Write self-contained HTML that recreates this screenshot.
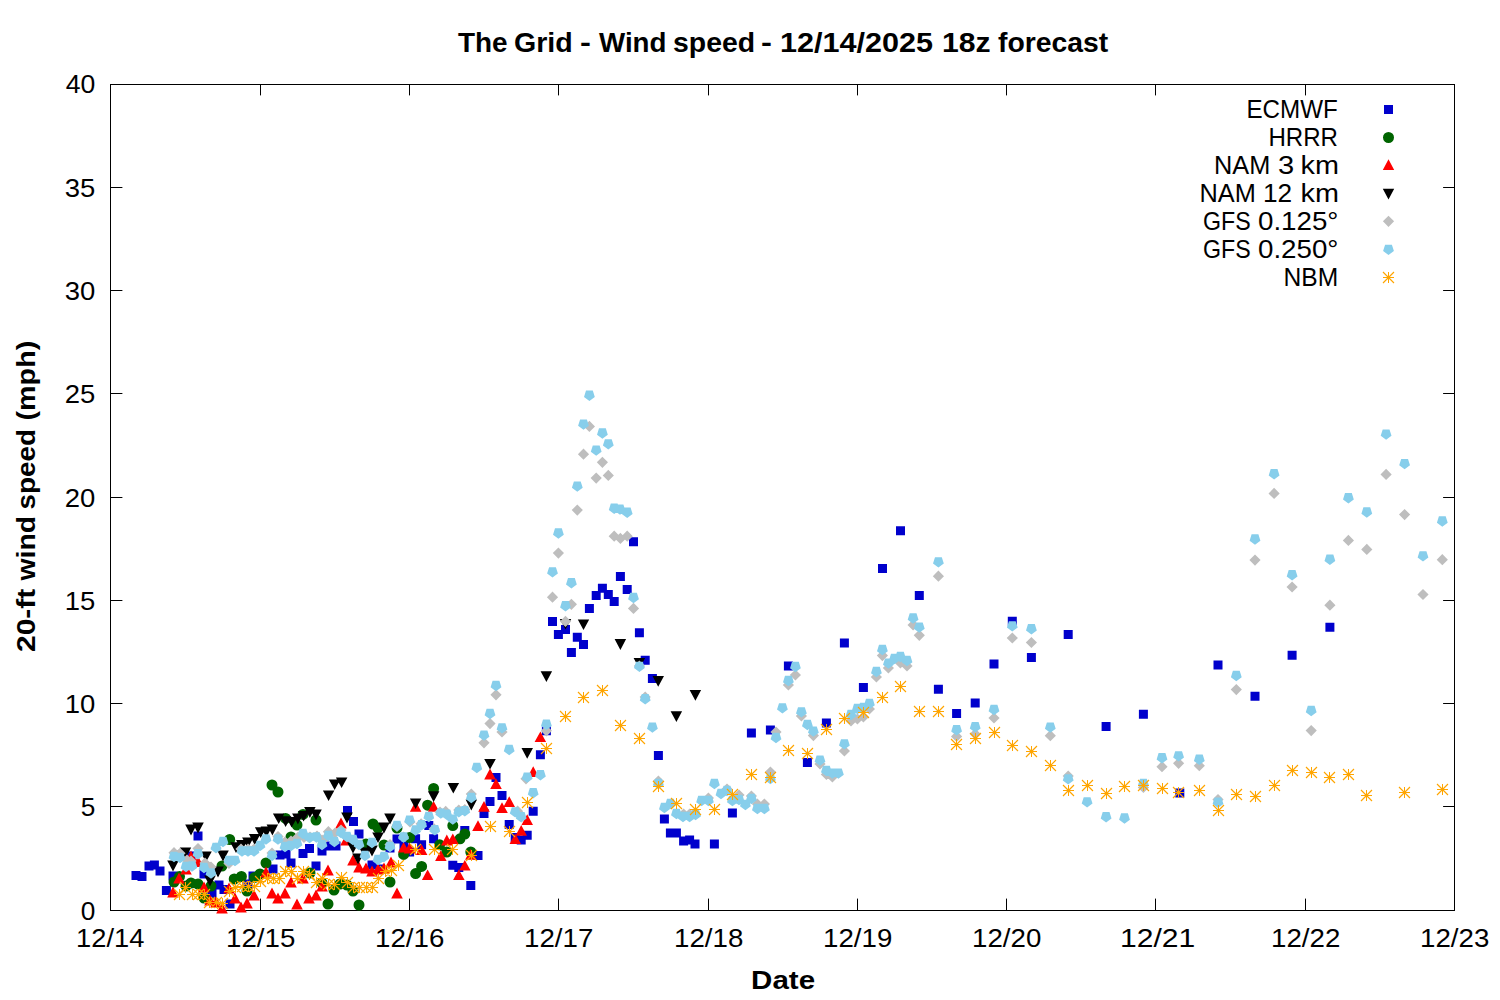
<!DOCTYPE html><html><head><meta charset="utf-8"><style>html,body{margin:0;padding:0;background:#fff;}svg{display:block;}</style></head><body><svg width="1500" height="1000" viewBox="0 0 1500 1000"><rect width="1500" height="1000" fill="#fff"/><path d="M260.5 84.5V95M260.5 910.5V899M409.5 84.5V95M409.5 910.5V899M558.5 84.5V95M558.5 910.5V899M708.5 84.5V95M708.5 910.5V899M857.5 84.5V95M857.5 910.5V899M1006.5 84.5V95M1006.5 910.5V899M1155.5 84.5V95M1155.5 910.5V899M1305.5 84.5V95M1305.5 910.5V899M110.5 806.5H122M1454.5 806.5H1443.5M110.5 703.5H122M1454.5 703.5H1443.5M110.5 600.5H122M1454.5 600.5H1443.5M110.5 497.5H122M1454.5 497.5H1443.5M110.5 393.5H122M1454.5 393.5H1443.5M110.5 290.5H122M1454.5 290.5H1443.5M110.5 187.5H122M1454.5 187.5H1443.5" stroke="#000" stroke-width="1" fill="none" stroke-linecap="round"/><rect x="110.5" y="84.5" width="1344" height="826" fill="none" stroke="#000" stroke-width="1"/><g font-family='"Liberation Sans", sans-serif' fill="#000"><text id="t_y0" x="95.3" y="919.5" text-anchor="end" font-size="25.5" textLength="14.59" lengthAdjust="spacingAndGlyphs">0</text><text id="t_y5" x="95.3" y="816.2" text-anchor="end" font-size="25.5" textLength="14.59" lengthAdjust="spacingAndGlyphs">5</text><text id="t_y10" x="95.3" y="713.0" text-anchor="end" font-size="25.5" textLength="30.57" lengthAdjust="spacingAndGlyphs">10</text><text id="t_y15" x="95.3" y="609.8" text-anchor="end" font-size="25.5" textLength="30.57" lengthAdjust="spacingAndGlyphs">15</text><text id="t_y20" x="95.3" y="506.5" text-anchor="end" font-size="25.5" textLength="30.57" lengthAdjust="spacingAndGlyphs">20</text><text id="t_y25" x="95.3" y="403.2" text-anchor="end" font-size="25.5" textLength="30.57" lengthAdjust="spacingAndGlyphs">25</text><text id="t_y30" x="95.3" y="300.0" text-anchor="end" font-size="25.5" textLength="30.57" lengthAdjust="spacingAndGlyphs">30</text><text id="t_y35" x="95.3" y="196.8" text-anchor="end" font-size="25.5" textLength="30.57" lengthAdjust="spacingAndGlyphs">35</text><text id="t_y40" x="95.3" y="92.5" text-anchor="end" font-size="25.5" textLength="29.57" lengthAdjust="spacingAndGlyphs">40</text><text id="t_x12_14" x="110.2" y="947" text-anchor="middle" font-size="25.5" textLength="68.21" lengthAdjust="spacingAndGlyphs">12/14</text><text id="t_x12_15" x="260.7" y="947" text-anchor="middle" font-size="25.5" textLength="69.21" lengthAdjust="spacingAndGlyphs">12/15</text><text id="t_x12_16" x="409.7" y="947" text-anchor="middle" font-size="25.5" textLength="69.21" lengthAdjust="spacingAndGlyphs">12/16</text><text id="t_x12_17" x="558.7" y="947" text-anchor="middle" font-size="25.5" textLength="69.21" lengthAdjust="spacingAndGlyphs">12/17</text><text id="t_x12_18" x="708.7" y="947" text-anchor="middle" font-size="25.5" textLength="69.21" lengthAdjust="spacingAndGlyphs">12/18</text><text id="t_x12_19" x="857.7" y="947" text-anchor="middle" font-size="25.5" textLength="69.21" lengthAdjust="spacingAndGlyphs">12/19</text><text id="t_x12_20" x="1006.7" y="947" text-anchor="middle" font-size="25.5" textLength="69.21" lengthAdjust="spacingAndGlyphs">12/20</text><text id="t_x12_21" x="1157.7" y="947" text-anchor="middle" font-size="25.5" textLength="75.21" lengthAdjust="spacingAndGlyphs">12/21</text><text id="t_x12_22" x="1305.7" y="947" text-anchor="middle" font-size="25.5" textLength="69.21" lengthAdjust="spacingAndGlyphs">12/22</text><text id="t_x12_23" x="1454.7" y="947" text-anchor="middle" font-size="25.5" textLength="69.21" lengthAdjust="spacingAndGlyphs">12/23</text><text id="t_date" x="783.1" y="989" text-anchor="middle" font-size="26" font-weight="bold" textLength="63.96" lengthAdjust="spacingAndGlyphs">Date</text><text id="t_tw0" x="458.00" y="51.7" font-size="26.8" font-weight="bold" textLength="49.64" lengthAdjust="spacingAndGlyphs">The</text><text id="t_tw1" x="514.00" y="51.7" font-size="26.8" font-weight="bold" textLength="58.69" lengthAdjust="spacingAndGlyphs">Grid</text><text id="t_tw2" x="580.00" y="51.7" font-size="26.8" font-weight="bold" textLength="10.94" lengthAdjust="spacingAndGlyphs">-</text><text id="t_tw3" x="599.00" y="51.7" font-size="26.8" font-weight="bold" textLength="67.45" lengthAdjust="spacingAndGlyphs">Wind</text><text id="t_tw4" x="673.00" y="51.7" font-size="26.8" font-weight="bold" textLength="82.05" lengthAdjust="spacingAndGlyphs">speed</text><text id="t_tw5" x="761.00" y="51.7" font-size="26.8" font-weight="bold" textLength="10.94" lengthAdjust="spacingAndGlyphs">-</text><text id="t_tw6" x="780.00" y="51.7" font-size="26.8" font-weight="bold" textLength="153.12" lengthAdjust="spacingAndGlyphs">12/14/2025</text><text id="t_tw7" x="942.00" y="51.7" font-size="26.8" font-weight="bold" textLength="48.62" lengthAdjust="spacingAndGlyphs">18z</text><text id="t_tw8" x="998.00" y="51.7" font-size="26.8" font-weight="bold" textLength="110.27" lengthAdjust="spacingAndGlyphs">forecast</text><text id="t_yw0" transform="rotate(-90)" x="-420.50" y="35.2" font-size="26" font-weight="bold" textLength="79.80" lengthAdjust="spacingAndGlyphs">(mph)</text><text id="t_yw1" transform="rotate(-90)" x="-509.50" y="35.2" font-size="26" font-weight="bold" textLength="80.56" lengthAdjust="spacingAndGlyphs">speed</text><text id="t_yw2" transform="rotate(-90)" x="-580.50" y="35.2" font-size="26" font-weight="bold" textLength="64.62" lengthAdjust="spacingAndGlyphs">wind</text><text id="t_yw3" transform="rotate(-90)" x="-652.00" y="35.2" font-size="26" font-weight="bold" textLength="63.31" lengthAdjust="spacingAndGlyphs">20-ft</text><text id="t_lw0_0" x="1246.50" y="118.4" font-size="25.5" textLength="91.31" lengthAdjust="spacingAndGlyphs">ECMWF</text><text id="t_lw1_0" x="1268.50" y="146.4" font-size="25.5" textLength="69.47" lengthAdjust="spacingAndGlyphs">HRRR</text><text id="t_lw2_0" x="1214.00" y="174.4" font-size="25.5" textLength="56.27" lengthAdjust="spacingAndGlyphs">NAM</text><text id="t_lw2_1" x="1278.00" y="174.4" font-size="25.5" textLength="16.19" lengthAdjust="spacingAndGlyphs">3</text><text id="t_lw2_2" x="1300.50" y="174.4" font-size="25.5" textLength="38.40" lengthAdjust="spacingAndGlyphs">km</text><text id="t_lw3_0" x="1199.50" y="202.4" font-size="25.5" textLength="56.27" lengthAdjust="spacingAndGlyphs">NAM</text><text id="t_lw3_1" x="1263.00" y="202.4" font-size="25.5" textLength="29.18" lengthAdjust="spacingAndGlyphs">12</text><text id="t_lw3_2" x="1300.50" y="202.4" font-size="25.5" textLength="38.40" lengthAdjust="spacingAndGlyphs">km</text><text id="t_lw4_0" x="1203.00" y="230.4" font-size="25.5" textLength="47.62" lengthAdjust="spacingAndGlyphs">GFS</text><text id="t_lw4_1" x="1258.00" y="230.4" font-size="25.5" textLength="80.42" lengthAdjust="spacingAndGlyphs">0.125°</text><text id="t_lw5_0" x="1203.00" y="258.4" font-size="25.5" textLength="47.62" lengthAdjust="spacingAndGlyphs">GFS</text><text id="t_lw5_1" x="1258.00" y="258.4" font-size="25.5" textLength="80.42" lengthAdjust="spacingAndGlyphs">0.250°</text><text id="t_lw6_0" x="1283.50" y="286.4" font-size="25.5" textLength="54.67" lengthAdjust="spacingAndGlyphs">NBM</text></g><path d="M131.5 871.1h9v9h-9zM137.5 871.9h9v9h-9zM144.5 861.5h9v9h-9zM149.9 860.5h9v9h-9zM155.5 866.5h9v9h-9zM161.9 885.9h9v9h-9zM168.5 871.5h9v9h-9zM186.5 851.5h9v9h-9zM193.5 831.5h9v9h-9zM199.5 869.5h9v9h-9zM207.5 889.5h9v9h-9zM214.5 880.5h9v9h-9zM219.5 885.0h9v9h-9zM225.5 899.5h9v9h-9zM243.5 879.5h9v9h-9zM248.5 871.5h9v9h-9zM268.5 864.5h9v9h-9zM275.5 850.5h9v9h-9zM281.5 849.5h9v9h-9zM286.5 858.5h9v9h-9zM298.5 849.1h9v9h-9zM305.0 843.9h9v9h-9zM311.5 861.5h9v9h-9zM317.5 846.5h9v9h-9zM324.5 841.5h9v9h-9zM331.5 841.5h9v9h-9zM343.0 806.0h9v9h-9zM349.0 817.1h9v9h-9zM354.5 829.5h9v9h-9zM367.5 860.5h9v9h-9zM375.5 864.5h9v9h-9zM385.5 843.5h9v9h-9zM392.5 834.5h9v9h-9zM399.5 841.5h9v9h-9zM405.1 847.5h9v9h-9zM411.1 834.3h9v9h-9zM417.1 840.3h9v9h-9zM424.3 821.1h9v9h-9zM429.1 834.3h9v9h-9zM448.3 860.7h9v9h-9zM454.3 863.1h9v9h-9zM460.3 825.9h9v9h-9zM466.3 881.1h9v9h-9zM473.5 851.1h9v9h-9zM479.5 809.1h9v9h-9zM485.5 797.1h9v9h-9zM491.5 773.1h9v9h-9zM497.5 791.1h9v9h-9zM504.7 819.9h9v9h-9zM510.7 833.1h9v9h-9zM516.7 835.5h9v9h-9zM522.7 830.7h9v9h-9zM528.7 806.7h9v9h-9zM535.9 750.3h9v9h-9zM541.9 726.3h9v9h-9zM548.0 616.9h9v9h-9zM553.9 630.0h9v9h-9zM561.0 625.0h9v9h-9zM566.9 648.0h9v9h-9zM572.8 632.7h9v9h-9zM579.0 639.9h9v9h-9zM584.9 603.9h9v9h-9zM591.7 590.9h9v9h-9zM597.9 583.7h9v9h-9zM603.8 589.9h9v9h-9zM609.7 597.1h9v9h-9zM615.9 571.9h9v9h-9zM622.7 585.0h9v9h-9zM629.0 537.3h9v9h-9zM634.9 628.2h9v9h-9zM640.7 655.7h9v9h-9zM647.9 674.1h9v9h-9zM653.9 750.9h9v9h-9zM659.9 814.5h9v9h-9zM665.9 828.5h9v9h-9zM671.9 828.5h9v9h-9zM679.1 836.5h9v9h-9zM685.1 835.5h9v9h-9zM690.5 839.5h9v9h-9zM709.9 839.5h9v9h-9zM727.9 808.5h9v9h-9zM746.9 728.5h9v9h-9zM765.9 725.5h9v9h-9zM783.9 661.5h9v9h-9zM802.9 757.9h9v9h-9zM821.9 718.5h9v9h-9zM839.9 638.5h9v9h-9zM858.9 683.0h9v9h-9zM878.0 564.1h9v9h-9zM896.0 526.2h9v9h-9zM914.8 591.0h9v9h-9zM933.9 684.8h9v9h-9zM952.1 708.9h9v9h-9zM970.7 698.6h9v9h-9zM989.5 659.5h9v9h-9zM1007.8 616.7h9v9h-9zM1026.9 653.0h9v9h-9zM1063.7 630.0h9v9h-9zM1101.6 722.0h9v9h-9zM1138.9 709.8h9v9h-9zM1175.3 788.5h9v9h-9zM1213.5 660.5h9v9h-9zM1250.5 691.7h9v9h-9zM1287.6 650.8h9v9h-9zM1325.4 622.8h9v9h-9zM1384.0 104.9h9v9h-9z" fill="#0000cc"/><path d="M168.5 882.0a5.5 5.5 0 1 0 11 0a5.5 5.5 0 1 0 -11 0zM174.0 876.6a5.5 5.5 0 1 0 11 0a5.5 5.5 0 1 0 -11 0zM180.5 886.0a5.5 5.5 0 1 0 11 0a5.5 5.5 0 1 0 -11 0zM185.5 883.0a5.5 5.5 0 1 0 11 0a5.5 5.5 0 1 0 -11 0zM192.5 884.0a5.5 5.5 0 1 0 11 0a5.5 5.5 0 1 0 -11 0zM198.5 898.0a5.5 5.5 0 1 0 11 0a5.5 5.5 0 1 0 -11 0zM205.5 886.0a5.5 5.5 0 1 0 11 0a5.5 5.5 0 1 0 -11 0zM216.5 866.0a5.5 5.5 0 1 0 11 0a5.5 5.5 0 1 0 -11 0zM224.2 839.5a5.5 5.5 0 1 0 11 0a5.5 5.5 0 1 0 -11 0zM228.7 879.0a5.5 5.5 0 1 0 11 0a5.5 5.5 0 1 0 -11 0zM235.9 876.5a5.5 5.5 0 1 0 11 0a5.5 5.5 0 1 0 -11 0zM241.5 891.0a5.5 5.5 0 1 0 11 0a5.5 5.5 0 1 0 -11 0zM249.1 877.4a5.5 5.5 0 1 0 11 0a5.5 5.5 0 1 0 -11 0zM254.5 874.0a5.5 5.5 0 1 0 11 0a5.5 5.5 0 1 0 -11 0zM260.5 863.0a5.5 5.5 0 1 0 11 0a5.5 5.5 0 1 0 -11 0zM266.5 785.0a5.5 5.5 0 1 0 11 0a5.5 5.5 0 1 0 -11 0zM272.5 792.0a5.5 5.5 0 1 0 11 0a5.5 5.5 0 1 0 -11 0zM280.1 818.4a5.5 5.5 0 1 0 11 0a5.5 5.5 0 1 0 -11 0zM285.5 837.0a5.5 5.5 0 1 0 11 0a5.5 5.5 0 1 0 -11 0zM291.5 825.0a5.5 5.5 0 1 0 11 0a5.5 5.5 0 1 0 -11 0zM297.5 814.4a5.5 5.5 0 1 0 11 0a5.5 5.5 0 1 0 -11 0zM304.5 873.0a5.5 5.5 0 1 0 11 0a5.5 5.5 0 1 0 -11 0zM310.5 820.0a5.5 5.5 0 1 0 11 0a5.5 5.5 0 1 0 -11 0zM316.5 883.0a5.5 5.5 0 1 0 11 0a5.5 5.5 0 1 0 -11 0zM322.5 904.0a5.5 5.5 0 1 0 11 0a5.5 5.5 0 1 0 -11 0zM328.5 890.0a5.5 5.5 0 1 0 11 0a5.5 5.5 0 1 0 -11 0zM334.5 884.0a5.5 5.5 0 1 0 11 0a5.5 5.5 0 1 0 -11 0zM341.5 885.0a5.5 5.5 0 1 0 11 0a5.5 5.5 0 1 0 -11 0zM347.5 891.0a5.5 5.5 0 1 0 11 0a5.5 5.5 0 1 0 -11 0zM353.5 905.0a5.5 5.5 0 1 0 11 0a5.5 5.5 0 1 0 -11 0zM360.5 844.0a5.5 5.5 0 1 0 11 0a5.5 5.5 0 1 0 -11 0zM367.5 824.0a5.5 5.5 0 1 0 11 0a5.5 5.5 0 1 0 -11 0zM372.5 828.0a5.5 5.5 0 1 0 11 0a5.5 5.5 0 1 0 -11 0zM378.5 845.0a5.5 5.5 0 1 0 11 0a5.5 5.5 0 1 0 -11 0zM384.5 882.0a5.5 5.5 0 1 0 11 0a5.5 5.5 0 1 0 -11 0zM391.5 828.0a5.5 5.5 0 1 0 11 0a5.5 5.5 0 1 0 -11 0zM398.1 854.4a5.5 5.5 0 1 0 11 0a5.5 5.5 0 1 0 -11 0zM404.1 837.6a5.5 5.5 0 1 0 11 0a5.5 5.5 0 1 0 -11 0zM410.1 873.6a5.5 5.5 0 1 0 11 0a5.5 5.5 0 1 0 -11 0zM416.1 866.4a5.5 5.5 0 1 0 11 0a5.5 5.5 0 1 0 -11 0zM422.1 805.2a5.5 5.5 0 1 0 11 0a5.5 5.5 0 1 0 -11 0zM428.1 788.4a5.5 5.5 0 1 0 11 0a5.5 5.5 0 1 0 -11 0zM434.1 844.8a5.5 5.5 0 1 0 11 0a5.5 5.5 0 1 0 -11 0zM441.3 852.0a5.5 5.5 0 1 0 11 0a5.5 5.5 0 1 0 -11 0zM447.3 825.6a5.5 5.5 0 1 0 11 0a5.5 5.5 0 1 0 -11 0zM454.5 838.8a5.5 5.5 0 1 0 11 0a5.5 5.5 0 1 0 -11 0zM459.3 834.0a5.5 5.5 0 1 0 11 0a5.5 5.5 0 1 0 -11 0zM465.3 852.0a5.5 5.5 0 1 0 11 0a5.5 5.5 0 1 0 -11 0zM1383.0 137.5a5.5 5.5 0 1 0 11 0a5.5 5.5 0 1 0 -11 0z" fill="#006400"/><path d="M173.0 886.6L178.8 897.4H167.2zM179.0 872.6L184.8 883.4H173.2zM186.0 863.9L191.8 874.6H180.2zM191.0 850.6L196.8 861.4H185.2zM198.0 856.1L203.8 866.9H192.2zM204.0 881.6L209.8 892.4H198.2zM210.0 894.6L215.8 905.4H204.2zM216.0 896.6L221.8 907.4H210.2zM222.0 902.6L227.8 913.4H216.2zM229.0 882.6L234.8 893.4H223.2zM235.0 892.6L240.8 903.4H229.2zM241.0 901.6L246.8 912.4H235.2zM247.0 897.6L252.8 908.4H241.2zM254.0 889.6L259.8 900.4H248.2zM266.0 866.6L271.8 877.4H260.2zM272.0 887.6L277.8 898.4H266.2zM278.0 892.6L283.8 903.4H272.2zM285.0 887.6L290.8 898.4H279.2zM291.0 876.6L296.8 887.4H285.2zM297.0 898.6L302.8 909.4H291.2zM303.0 872.6L308.8 883.4H297.2zM309.0 892.6L314.8 903.4H303.2zM316.0 889.6L321.8 900.4H310.2zM322.0 880.6L327.8 891.4H316.2zM328.0 864.6L333.8 875.4H322.2zM341.0 817.6L346.8 828.4H335.2zM346.0 834.6L351.8 845.4H340.2zM353.0 854.6L358.8 865.4H347.2zM359.0 861.6L364.8 872.4H353.2zM366.0 862.6L371.8 873.4H360.2zM372.0 865.6L377.8 876.4H366.2zM378.0 863.6L383.8 874.4H372.2zM384.0 862.6L389.8 873.4H378.2zM391.0 856.6L396.8 867.4H385.2zM397.0 887.6L402.8 898.4H391.2zM403.6 841.9L409.4 852.6H397.9zM409.6 842.6L415.4 853.4H403.9zM415.6 801.0L421.4 811.8H409.9zM421.6 844.2L427.4 855.0H415.9zM427.6 869.4L433.4 880.1H421.9zM433.6 801.0L439.4 811.8H427.9zM440.8 850.2L446.6 861.0H435.1zM446.8 834.6L452.6 845.4H441.1zM452.8 833.4L458.6 844.1H447.1zM458.8 869.4L464.6 880.1H453.1zM464.8 859.9L470.6 870.6H459.1zM470.8 849.0L476.6 859.8H465.1zM478.0 820.2L483.8 831.0H472.2zM484.0 801.0L489.8 811.8H478.2zM490.0 768.6L495.8 779.4H484.2zM496.0 778.2L501.8 789.0H490.2zM502.0 802.2L507.8 813.0H496.2zM509.2 796.2L515.0 807.0H503.4zM515.2 833.4L521.0 844.1H509.5zM521.2 825.0L527.0 835.8H515.5zM527.2 814.2L533.0 825.0H521.5zM533.2 766.2L539.0 777.0H527.5zM540.4 731.4L546.1 742.1H534.6zM1388.5 159.3L1394.2 170.0H1382.8z" fill="#ff0000"/><path d="M173.0 871.4L178.8 860.6H167.2zM185.5 858.4L191.2 847.6H179.8zM191.0 835.4L196.8 824.6H185.2zM198.0 833.4L203.8 822.6H192.2zM206.0 862.1L211.8 851.4H200.2zM210.0 886.4L215.8 875.6H204.2zM218.0 877.4L223.8 866.6H212.2zM223.0 861.4L228.8 850.6H217.2zM236.0 853.0L241.8 842.2H230.2zM241.8 850.9L247.6 840.1H236.1zM247.8 848.2L253.6 837.5H242.1zM254.7 844.9L260.4 834.1H248.9zM260.7 838.0L266.4 827.2H254.9zM266.4 837.4L272.1 826.6H260.6zM272.4 835.4L278.1 824.6H266.6zM278.7 824.1L284.4 813.4H272.9zM285.6 827.0L291.4 816.2H279.9zM291.6 827.6L297.4 816.9H285.9zM297.9 824.4L303.6 813.6H292.1zM303.6 821.6L309.4 810.9H297.9zM309.9 817.9L315.6 807.1H304.1zM316.0 820.4L321.8 809.6H310.2zM328.6 801.1L334.4 790.4H322.9zM334.6 790.1L340.4 779.4H328.9zM341.6 788.1L347.4 777.4H335.9zM347.0 823.4L352.8 812.6H341.2zM353.0 853.4L358.8 842.6H347.2zM358.0 864.4L363.8 853.6H352.2zM365.0 858.4L370.8 847.6H359.2zM372.0 856.4L377.8 845.6H366.2zM378.0 843.1L383.8 832.4H372.2zM384.0 833.4L389.8 822.6H378.2zM390.0 824.4L395.8 813.6H384.2zM415.6 809.1L421.4 798.4H409.9zM433.6 802.0L439.4 791.2H427.9zM453.3 793.6L459.1 782.9H447.6zM471.3 810.4L477.1 799.6H465.6zM490.0 769.6L495.8 758.9H484.2zM527.2 758.8L533.0 748.0H521.5zM546.4 682.0L552.1 671.2H540.6zM565.5 629.6L571.2 618.9H559.8zM583.5 630.1L589.2 619.4H577.8zM620.4 649.9L626.1 639.1H614.6zM639.4 668.8L645.1 658.0H633.6zM658.2 686.8L664.0 676.0H652.5zM676.4 722.0L682.1 711.2H670.6zM695.4 700.8L701.1 690.0H689.6zM1388.5 199.5L1394.2 188.8H1382.8z" fill="#000000"/><path d="M174.0 847.1L179.6 852.7L174.0 858.3L168.4 852.7zM180.0 847.7L185.6 853.3L180.0 858.9L174.4 853.3zM187.0 854.4L192.6 860.0L187.0 865.6L181.4 860.0zM191.0 855.4L196.6 861.0L191.0 866.6L185.4 861.0zM198.0 842.9L203.6 848.5L198.0 854.1L192.4 848.5zM205.0 857.4L210.6 863.0L205.0 868.6L199.4 863.0zM211.0 861.4L216.6 867.0L211.0 872.6L205.4 867.0zM216.0 842.4L221.6 848.0L216.0 853.6L210.4 848.0zM229.0 857.9L234.6 863.5L229.0 869.1L223.4 863.5zM241.0 843.4L246.6 849.0L241.0 854.6L235.4 849.0zM248.0 843.4L253.6 849.0L248.0 854.6L242.4 849.0zM254.0 843.4L259.6 849.0L254.0 854.6L248.4 849.0zM272.0 847.4L277.6 853.0L272.0 858.6L266.4 853.0zM278.0 830.9L283.6 836.5L278.0 842.1L272.4 836.5zM285.0 836.4L290.6 842.0L285.0 847.6L279.4 842.0zM291.0 835.4L296.6 841.0L291.0 846.6L285.4 841.0zM298.0 831.4L303.6 837.0L298.0 842.6L292.4 837.0zM304.0 831.9L309.6 837.5L304.0 843.1L298.4 837.5zM310.0 831.4L315.6 837.0L310.0 842.6L304.4 837.0zM317.0 830.4L322.6 836.0L317.0 841.6L311.4 836.0zM323.0 834.4L328.6 840.0L323.0 845.6L317.4 840.0zM328.4 826.1L334.0 831.7L328.4 837.3L322.8 831.7zM335.0 827.4L340.6 833.0L335.0 838.6L329.4 833.0zM341.0 824.4L346.6 830.0L341.0 835.6L335.4 830.0zM390.0 838.9L395.6 844.5L390.0 850.1L384.4 844.5zM397.0 820.9L402.6 826.5L397.0 832.1L391.4 826.5zM403.5 831.4L409.1 837.0L403.5 842.6L397.9 837.0zM410.0 816.4L415.6 822.0L410.0 827.6L404.4 822.0zM421.1 818.2L426.7 823.8L421.1 829.4L415.5 823.8zM434.1 823.3L439.7 828.9L434.1 834.5L428.5 828.9zM440.0 806.4L445.6 812.0L440.0 817.6L434.4 812.0zM445.7 805.8L451.3 811.4L445.7 817.0L440.1 811.4zM458.8 804.4L464.4 810.0L458.8 815.6L453.2 810.0zM464.8 803.9L470.4 809.5L464.8 815.1L459.2 809.5zM496.0 689.2L501.6 694.8L496.0 700.4L490.4 694.8zM490.0 718.0L495.6 723.6L490.0 729.2L484.4 723.6zM502.0 726.4L507.6 732.0L502.0 737.6L496.4 732.0zM484.0 737.2L489.6 742.8L484.0 748.4L478.4 742.8zM471.3 788.4L476.9 794.0L471.3 799.6L465.7 794.0zM526.0 773.2L531.6 778.8L526.0 784.4L520.4 778.8zM546.4 725.2L552.0 730.8L546.4 736.4L540.8 730.8zM517.6 805.6L523.2 811.2L517.6 816.8L512.0 811.2zM589.4 420.8L595.0 426.4L589.4 432.0L583.8 426.4zM583.5 448.6L589.1 454.2L583.5 459.8L577.9 454.2zM602.4 456.7L608.0 462.3L602.4 467.9L596.8 462.3zM596.2 472.5L601.8 478.1L596.2 483.7L590.6 478.1zM608.3 469.8L613.9 475.4L608.3 481.0L602.7 475.4zM577.3 504.5L582.9 510.1L577.3 515.7L571.7 510.1zM614.2 530.6L619.8 536.2L614.2 541.8L608.6 536.2zM620.4 532.8L626.0 538.4L620.4 544.0L614.8 538.4zM627.2 530.6L632.8 536.2L627.2 541.8L621.6 536.2zM558.4 547.5L564.0 553.1L558.4 558.7L552.8 553.1zM552.5 591.6L558.1 597.2L552.5 602.8L546.9 597.2zM571.4 598.7L577.0 604.3L571.4 609.9L565.8 604.3zM565.5 615.8L571.1 621.4L565.5 627.0L559.9 621.4zM633.5 602.8L639.1 608.4L633.5 614.0L627.9 608.4zM639.4 660.4L645.0 666.0L639.4 671.6L633.8 666.0zM645.2 691.4L650.8 697.0L645.2 702.6L639.6 697.0zM658.4 775.4L664.0 781.0L658.4 786.6L652.8 781.0zM683.6 808.4L689.2 814.0L683.6 819.6L678.0 814.0zM689.6 808.4L695.2 814.0L689.6 819.6L684.0 814.0zM708.4 792.4L714.0 798.0L708.4 803.6L702.8 798.0zM727.0 783.4L732.6 789.0L727.0 794.6L721.4 789.0zM739.0 789.4L744.6 795.0L739.0 800.6L733.4 795.0zM751.4 790.4L757.0 796.0L751.4 801.6L745.8 796.0zM757.4 798.4L763.0 804.0L757.4 809.6L751.8 804.0zM764.4 798.4L770.0 804.0L764.4 809.6L758.8 804.0zM770.4 766.4L776.0 772.0L770.4 777.6L764.8 772.0zM776.0 726.4L781.6 732.0L776.0 737.6L770.4 732.0zM788.4 679.4L794.0 685.0L788.4 690.6L782.8 685.0zM795.4 669.4L801.0 675.0L795.4 680.6L789.8 675.0zM801.4 710.4L807.0 716.0L801.4 721.6L795.8 716.0zM813.4 730.0L819.0 735.6L813.4 741.2L807.8 735.6zM820.0 758.4L825.6 764.0L820.0 769.6L814.4 764.0zM826.4 768.8L832.0 774.4L826.4 780.0L820.8 774.4zM832.4 771.4L838.0 777.0L832.4 782.6L826.8 777.0zM844.4 745.4L850.0 751.0L844.4 756.6L838.8 751.0zM851.0 715.4L856.6 721.0L851.0 726.6L845.4 721.0zM857.4 713.4L863.0 719.0L857.4 724.6L851.8 719.0zM863.4 711.4L869.0 717.0L863.4 722.6L857.8 717.0zM869.4 703.4L875.0 709.0L869.4 714.6L863.8 709.0zM876.4 671.4L882.0 677.0L876.4 682.6L870.8 677.0zM882.4 650.0L888.0 655.6L882.4 661.2L876.8 655.6zM888.4 662.4L894.0 668.0L888.4 673.6L882.8 668.0zM900.4 657.4L906.0 663.0L900.4 668.6L894.8 663.0zM907.0 660.4L912.6 666.0L907.0 671.6L901.4 666.0zM913.1 619.4L918.7 625.0L913.1 630.6L907.5 625.0zM919.3 629.7L924.9 635.3L919.3 640.9L913.7 635.3zM938.4 570.6L944.0 576.2L938.4 581.8L932.8 576.2zM956.6 730.8L962.2 736.4L956.6 742.0L951.0 736.4zM975.2 728.4L980.8 734.0L975.2 739.6L969.6 734.0zM994.0 712.4L999.6 718.0L994.0 723.6L988.4 718.0zM1012.3 632.4L1017.9 638.0L1012.3 643.6L1006.7 638.0zM1031.4 636.9L1037.0 642.5L1031.4 648.1L1025.8 642.5zM1050.3 730.1L1055.9 735.7L1050.3 741.3L1044.7 735.7zM1068.2 770.4L1073.8 776.0L1068.2 781.6L1062.6 776.0zM1143.4 781.8L1149.0 787.4L1143.4 793.0L1137.8 787.4zM1162.0 761.1L1167.6 766.7L1162.0 772.3L1156.4 766.7zM1178.6 757.7L1184.2 763.3L1178.6 768.9L1173.0 763.3zM1199.3 760.1L1204.9 765.7L1199.3 771.3L1193.7 765.7zM1218.0 793.9L1223.6 799.5L1218.0 805.1L1212.4 799.5zM1236.3 684.0L1241.9 689.6L1236.3 695.2L1230.7 689.6zM1255.0 554.5L1260.6 560.1L1255.0 565.7L1249.4 560.1zM1274.1 487.8L1279.7 493.4L1274.1 499.0L1268.5 493.4zM1292.1 581.4L1297.7 587.0L1292.1 592.6L1286.5 587.0zM1311.2 725.0L1316.8 730.6L1311.2 736.2L1305.6 730.6zM1329.9 599.6L1335.5 605.2L1329.9 610.8L1324.3 605.2zM1348.4 534.8L1354.0 540.4L1348.4 546.0L1342.8 540.4zM1366.8 543.8L1372.4 549.4L1366.8 555.0L1361.2 549.4zM1386.1 468.8L1391.7 474.4L1386.1 480.0L1380.5 474.4zM1404.6 509.0L1410.2 514.6L1404.6 520.2L1399.0 514.6zM1423.0 588.9L1428.6 594.5L1423.0 600.1L1417.4 594.5zM1442.3 554.1L1447.9 559.7L1442.3 565.3L1436.7 559.7zM1388.5 215.8L1394.1 221.3L1388.5 226.9L1382.9 221.3z" fill="#bebebe"/><path d="M174.0 862.2L168.6 858.2L170.6 851.8L177.4 851.8L179.4 858.2zM180.0 863.2L174.6 859.2L176.6 852.8L183.4 852.8L185.4 859.2zM186.0 872.2L180.6 868.2L182.6 861.8L189.4 861.8L191.4 868.2zM192.0 871.7L186.6 867.7L188.6 861.3L195.4 861.3L197.4 867.7zM198.0 859.4L192.6 855.4L194.6 849.0L201.4 849.0L203.4 855.4zM204.0 873.2L198.6 869.2L200.6 862.8L207.4 862.8L209.4 869.2zM211.0 878.7L205.6 874.7L207.6 868.3L214.4 868.3L216.4 874.7zM216.0 853.2L210.6 849.2L212.6 842.8L219.4 842.8L221.4 849.2zM223.0 847.2L217.6 843.2L219.6 836.8L226.4 836.8L228.4 843.2zM229.0 866.2L223.6 862.2L225.6 855.8L232.4 855.8L234.4 862.2zM235.0 866.2L229.6 862.2L231.6 855.8L238.4 855.8L240.4 862.2zM242.0 856.7L236.6 852.7L238.6 846.3L245.4 846.3L247.4 852.7zM248.0 856.7L242.6 852.7L244.6 846.3L251.4 846.3L253.4 852.7zM254.0 856.7L248.6 852.7L250.6 846.3L257.4 846.3L259.4 852.7zM260.0 851.2L254.6 847.2L256.6 840.8L263.4 840.8L265.4 847.2zM266.0 844.7L260.6 840.7L262.6 834.3L269.4 834.3L271.4 840.7zM272.0 861.2L266.6 857.2L268.6 850.8L275.4 850.8L277.4 857.2zM278.0 844.7L272.6 840.7L274.6 834.3L281.4 834.3L283.4 840.7zM285.0 852.2L279.6 848.2L281.6 841.8L288.4 841.8L290.4 848.2zM291.0 851.2L285.6 847.2L287.6 840.8L294.4 840.8L296.4 847.2zM297.0 849.2L291.6 845.2L293.6 838.8L300.4 838.8L302.4 845.2zM303.0 839.2L297.6 835.2L299.6 828.8L306.4 828.8L308.4 835.2zM309.5 843.2L304.1 839.2L306.1 832.8L312.9 832.8L314.9 839.2zM316.4 842.7L311.0 838.7L313.0 832.3L319.8 832.3L321.8 838.7zM322.0 850.2L316.6 846.2L318.6 839.8L325.4 839.8L327.4 846.2zM328.4 841.2L323.0 837.2L325.0 830.8L331.8 830.8L333.8 837.2zM334.4 847.2L329.0 843.2L331.0 836.8L337.8 836.8L339.8 843.2zM341.0 838.2L335.6 834.2L337.6 827.8L344.4 827.8L346.4 834.2zM347.0 842.2L341.6 838.2L343.6 831.8L350.4 831.8L352.4 838.2zM353.0 845.2L347.6 841.2L349.6 834.8L356.4 834.8L358.4 841.2zM359.0 850.2L353.6 846.2L355.6 839.8L362.4 839.8L364.4 846.2zM365.0 861.2L359.6 857.2L361.6 850.8L368.4 850.8L370.4 857.2zM372.0 848.2L366.6 844.2L368.6 837.8L375.4 837.8L377.4 844.2zM378.0 865.2L372.6 861.2L374.6 854.8L381.4 854.8L383.4 861.2zM384.0 862.2L378.6 858.2L380.6 851.8L387.4 851.8L389.4 858.2zM390.0 852.2L384.6 848.2L386.6 841.8L393.4 841.8L395.4 848.2zM397.0 831.2L391.6 827.2L393.6 820.8L400.4 820.8L402.4 827.2zM403.6 842.7L398.2 838.7L400.2 832.3L407.0 832.3L409.0 838.7zM409.6 826.0L404.2 822.0L406.2 815.6L413.0 815.6L415.0 822.0zM415.6 835.7L410.2 831.7L412.2 825.3L419.0 825.3L421.0 831.7zM421.6 830.4L416.2 826.4L418.2 820.0L425.0 820.0L427.0 826.4zM428.8 822.2L423.4 818.2L425.4 811.8L432.2 811.8L434.2 818.2zM434.8 835.5L429.4 831.5L431.4 825.1L438.2 825.1L440.2 831.5zM440.8 818.8L435.4 814.8L437.4 808.4L444.2 808.4L446.2 814.8zM446.8 820.0L441.4 816.0L443.4 809.6L450.2 809.6L452.2 816.0zM452.8 824.8L447.4 820.8L449.4 814.4L456.2 814.4L458.2 820.8zM458.8 817.6L453.4 813.6L455.4 807.2L462.2 807.2L464.2 813.6zM464.8 816.4L459.4 812.4L461.4 806.0L468.2 806.0L470.2 812.4zM471.3 803.2L465.9 799.2L467.9 792.8L474.7 792.8L476.7 799.2zM476.8 773.2L471.4 769.2L473.4 762.8L480.2 762.8L482.2 769.2zM484.0 740.8L478.6 736.8L480.6 730.4L487.4 730.4L489.4 736.8zM490.0 719.2L484.6 715.2L486.6 708.8L493.4 708.8L495.4 715.2zM496.0 691.2L490.6 687.2L492.6 680.8L499.4 680.8L501.4 687.2zM502.0 733.6L496.6 729.6L498.6 723.2L505.4 723.2L507.4 729.6zM509.2 755.2L503.8 751.2L505.8 744.8L512.6 744.8L514.6 751.2zM515.2 817.6L509.8 813.6L511.8 807.2L518.6 807.2L520.6 813.6zM521.2 822.4L515.8 818.4L517.8 812.0L524.6 812.0L526.6 818.4zM527.2 782.8L521.8 778.8L523.8 772.4L530.6 772.4L532.6 778.8zM533.2 798.4L527.8 794.4L529.8 788.0L536.6 788.0L538.6 794.4zM540.4 780.4L535.0 776.4L537.0 770.0L543.8 770.0L545.8 776.4zM546.4 730.0L541.0 726.0L543.0 719.6L549.8 719.6L551.8 726.0zM552.5 577.6L547.1 573.6L549.1 567.2L555.9 567.2L557.9 573.6zM558.4 538.7L553.0 534.7L555.0 528.3L561.8 528.3L563.8 534.7zM565.5 611.4L560.1 607.4L562.1 601.0L568.9 601.0L570.9 607.4zM571.4 588.4L566.0 584.4L568.0 578.0L574.8 578.0L576.8 584.4zM577.3 491.8L571.9 487.8L573.9 481.4L580.7 481.4L582.7 487.8zM583.5 429.8L578.1 425.8L580.1 419.4L586.9 419.4L588.9 425.8zM589.4 401.0L584.0 397.0L586.0 390.6L592.8 390.6L594.8 397.0zM596.2 455.8L590.8 451.8L592.8 445.4L599.6 445.4L601.6 451.8zM602.4 438.7L597.0 434.7L599.0 428.3L605.8 428.3L607.8 434.7zM608.3 449.6L602.9 445.6L604.9 439.2L611.7 439.2L613.7 445.6zM614.2 513.9L608.8 509.9L610.8 503.5L617.6 503.5L619.6 509.9zM620.0 514.8L614.6 510.8L616.6 504.4L623.4 504.4L625.4 510.8zM627.2 518.0L621.8 514.0L623.8 507.6L630.6 507.6L632.6 514.0zM633.5 603.2L628.1 599.2L630.1 592.8L636.9 592.8L638.9 599.2zM639.4 672.1L634.0 668.1L636.0 661.7L642.8 661.7L644.8 668.1zM645.2 704.5L639.8 700.5L641.8 694.1L648.6 694.1L650.6 700.5zM652.4 732.8L647.0 728.8L649.0 722.4L655.8 722.4L657.8 728.8zM658.4 789.2L653.0 785.2L655.0 778.8L661.8 778.8L663.8 785.2zM664.4 813.2L659.0 809.2L661.0 802.8L667.8 802.8L669.8 809.2zM670.4 809.2L665.0 805.2L667.0 798.8L673.8 798.8L675.8 805.2zM676.4 819.2L671.0 815.2L673.0 808.8L679.8 808.8L681.8 815.2zM683.0 822.2L677.6 818.2L679.6 811.8L686.4 811.8L688.4 818.2zM689.6 822.2L684.2 818.2L686.2 811.8L693.0 811.8L695.0 818.2zM695.6 820.2L690.2 816.2L692.2 809.8L699.0 809.8L701.0 816.2zM701.6 806.2L696.2 802.2L698.2 795.8L705.0 795.8L707.0 802.2zM708.4 806.2L703.0 802.2L705.0 795.8L711.8 795.8L713.8 802.2zM714.4 789.2L709.0 785.2L711.0 778.8L717.8 778.8L719.8 785.2zM721.0 799.2L715.6 795.2L717.6 788.8L724.4 788.8L726.4 795.2zM727.0 796.2L721.6 792.2L723.6 785.8L730.4 785.8L732.4 792.2zM732.4 806.2L727.0 802.2L729.0 795.8L735.8 795.8L737.8 802.2zM739.0 805.2L733.6 801.2L735.6 794.8L742.4 794.8L744.4 801.2zM745.4 810.2L740.0 806.2L742.0 799.8L748.8 799.8L750.8 806.2zM751.4 804.2L746.0 800.2L748.0 793.8L754.8 793.8L756.8 800.2zM757.4 814.2L752.0 810.2L754.0 803.8L760.8 803.8L762.8 810.2zM764.4 814.2L759.0 810.2L761.0 803.8L767.8 803.8L769.8 810.2zM770.4 784.2L765.0 780.2L767.0 773.8L773.8 773.8L775.8 780.2zM776.0 743.2L770.6 739.2L772.6 732.8L779.4 732.8L781.4 739.2zM782.4 713.6L777.0 709.6L779.0 703.2L785.8 703.2L787.8 709.6zM788.4 686.2L783.0 682.2L785.0 675.8L791.8 675.8L793.8 682.2zM795.4 672.2L790.0 668.2L792.0 661.8L798.8 661.8L800.8 668.2zM801.4 717.6L796.0 713.6L798.0 707.2L804.8 707.2L806.8 713.6zM807.4 730.2L802.0 726.2L804.0 719.8L810.8 719.8L812.8 726.2zM813.4 736.8L808.0 732.8L810.0 726.4L816.8 726.4L818.8 732.8zM820.0 765.8L814.6 761.8L816.6 755.4L823.4 755.4L825.4 761.8zM826.4 776.2L821.0 772.2L823.0 765.8L829.8 765.8L831.8 772.2zM832.4 778.8L827.0 774.8L829.0 768.4L835.8 768.4L837.8 774.8zM838.4 778.8L833.0 774.8L835.0 768.4L841.8 768.4L843.8 774.8zM844.4 749.6L839.0 745.6L841.0 739.2L847.8 739.2L849.8 745.6zM851.0 720.2L845.6 716.2L847.6 709.8L854.4 709.8L856.4 716.2zM857.4 714.2L852.0 710.2L854.0 703.8L860.8 703.8L862.8 710.2zM863.4 713.2L858.0 709.2L860.0 702.8L866.8 702.8L868.8 709.2zM869.4 709.2L864.0 705.2L866.0 698.8L872.8 698.8L874.8 705.2zM876.4 677.2L871.0 673.2L873.0 666.8L879.8 666.8L881.8 673.2zM882.4 655.2L877.0 651.2L879.0 644.8L885.8 644.8L887.8 651.2zM888.4 668.8L883.0 664.8L885.0 658.4L891.8 658.4L893.8 664.8zM894.4 664.2L889.0 660.2L891.0 653.8L897.8 653.8L899.8 660.2zM900.4 662.2L895.0 658.2L897.0 651.8L903.8 651.8L905.8 658.2zM907.0 666.2L901.6 662.2L903.6 655.8L910.4 655.8L912.4 662.2zM913.1 623.7L907.7 619.7L909.7 613.3L916.5 613.3L918.5 619.7zM919.3 632.8L913.9 628.8L915.9 622.4L922.7 622.4L924.7 628.8zM938.4 567.6L933.0 563.6L935.0 557.2L941.8 557.2L943.8 563.6zM956.6 735.4L951.2 731.4L953.2 725.0L960.0 725.0L962.0 731.4zM975.2 732.4L969.8 728.4L971.8 722.0L978.6 722.0L980.6 728.4zM994.0 715.2L988.6 711.2L990.6 704.8L997.4 704.8L999.4 711.2zM1012.3 631.6L1006.9 627.6L1008.9 621.2L1015.7 621.2L1017.7 627.6zM1031.4 634.4L1026.0 630.4L1028.0 624.0L1034.8 624.0L1036.8 630.4zM1050.3 732.8L1044.9 728.8L1046.9 722.4L1053.7 722.4L1055.7 728.8zM1068.2 784.6L1062.8 780.6L1064.8 774.2L1071.6 774.2L1073.6 780.6zM1087.1 807.6L1081.7 803.6L1083.7 797.2L1090.5 797.2L1092.5 803.6zM1106.1 822.5L1100.7 818.5L1102.7 812.1L1109.5 812.1L1111.5 818.5zM1124.5 823.7L1119.1 819.7L1121.1 813.3L1127.9 813.3L1129.9 819.7zM1143.4 789.2L1138.0 785.2L1140.0 778.8L1146.8 778.8L1148.8 785.2zM1162.0 763.4L1156.6 759.4L1158.6 753.0L1165.4 753.0L1167.4 759.4zM1178.6 761.6L1173.2 757.6L1175.2 751.2L1182.0 751.2L1184.0 757.6zM1199.3 765.0L1193.9 761.0L1195.9 754.6L1202.7 754.6L1204.7 761.0zM1218.0 807.9L1212.6 803.9L1214.6 797.5L1221.4 797.5L1223.4 803.9zM1236.3 681.2L1230.9 677.2L1232.9 670.8L1239.7 670.8L1241.7 677.2zM1255.0 544.7L1249.6 540.7L1251.6 534.3L1258.4 534.3L1260.4 540.7zM1274.1 479.5L1268.7 475.5L1270.7 469.1L1277.5 469.1L1279.5 475.5zM1292.1 580.5L1286.7 576.5L1288.7 570.1L1295.5 570.1L1297.5 576.5zM1311.2 716.2L1305.8 712.2L1307.8 705.8L1314.6 705.8L1316.6 712.2zM1329.9 564.9L1324.5 560.9L1326.5 554.5L1333.3 554.5L1335.3 560.9zM1348.4 503.4L1343.0 499.4L1345.0 493.0L1351.8 493.0L1353.8 499.4zM1366.8 517.7L1361.4 513.7L1363.4 507.3L1370.2 507.3L1372.2 513.7zM1386.1 439.8L1380.7 435.8L1382.7 429.4L1389.5 429.4L1391.5 435.8zM1404.6 469.3L1399.2 465.3L1401.2 458.9L1408.0 458.9L1410.0 465.3zM1423.0 561.6L1417.6 557.6L1419.6 551.2L1426.4 551.2L1428.4 557.6zM1442.3 526.7L1436.9 522.7L1438.9 516.3L1445.7 516.3L1447.7 522.7zM1388.5 255.1L1383.1 251.1L1385.1 244.7L1391.9 244.7L1393.9 251.1z" fill="#87ceeb"/><path d="M174.0 894.5H185.0M179.5 889.0V900.0M180.0 887.5H191.0M185.5 882.0V893.0M187.0 894.5H198.0M192.5 889.0V900.0M193.0 894.5H204.0M198.5 889.0V900.0M199.0 894.5H210.0M204.5 889.0V900.0M204.0 902.5H215.0M209.5 897.0V908.0M211.0 902.5H222.0M216.5 897.0V908.0M217.0 903.5H228.0M222.5 898.0V909.0M224.0 891.5H235.0M229.5 886.0V897.0M230.0 887.5H241.0M235.5 882.0V893.0M237.0 886.5H248.0M242.5 881.0V892.0M243.0 886.5H254.0M248.5 881.0V892.0M249.0 886.5H260.0M254.5 881.0V892.0M255.0 881.5H266.0M260.5 876.0V887.0M262.0 878.5H273.0M267.5 873.0V884.0M268.0 878.5H279.0M273.5 873.0V884.0M274.0 878.5H285.0M279.5 873.0V884.0M280.0 871.5H291.0M285.5 866.0V877.0M286.0 871.5H297.0M291.5 866.0V877.0M292.0 878.5H303.0M297.5 873.0V884.0M298.0 871.5H309.0M303.5 866.0V877.0M304.0 874.5H315.0M309.5 869.0V880.0M311.0 882.5H322.0M316.5 877.0V888.0M317.0 878.5H328.0M322.5 873.0V884.0M323.0 884.5H334.0M328.5 879.0V890.0M329.0 884.5H340.0M334.5 879.0V890.0M336.0 877.5H347.0M341.5 872.0V883.0M342.0 882.5H353.0M347.5 877.0V888.0M348.0 887.5H359.0M353.5 882.0V893.0M354.0 887.5H365.0M359.5 882.0V893.0M361.0 887.5H372.0M366.5 882.0V893.0M367.0 887.5H378.0M372.5 882.0V893.0M373.0 878.5H384.0M378.5 873.0V884.0M380.0 871.5H391.0M385.5 866.0V877.0M386.0 870.5H397.0M391.5 865.0V876.0M393.0 865.5H404.0M398.5 860.0V871.0M410.0 849.5H421.0M415.5 844.0V855.0M429.0 849.5H440.0M434.5 844.0V855.0M447.0 849.5H458.0M452.5 844.0V855.0M466.0 855.5H477.0M471.5 850.0V861.0M485.0 826.5H496.0M490.5 821.0V832.0M504.0 831.5H515.0M509.5 826.0V837.0M522.0 802.5H533.0M527.5 797.0V808.0M541.0 748.5H552.0M546.5 743.0V754.0M560.0 716.5H571.0M565.5 711.0V722.0M578.0 697.5H589.0M583.5 692.0V703.0M597.0 690.5H608.0M602.5 685.0V696.0M615.0 725.5H626.0M620.5 720.0V731.0M634.0 738.5H645.0M639.5 733.0V744.0M653.0 786.5H664.0M658.5 781.0V792.0M671.0 803.5H682.0M676.5 798.0V809.0M690.0 809.5H701.0M695.5 804.0V815.0M709.0 809.5H720.0M714.5 804.0V815.0M727.0 794.5H738.0M732.5 789.0V800.0M746.0 774.5H757.0M751.5 769.0V780.0M765.0 777.5H776.0M770.5 772.0V783.0M783.0 750.5H794.0M788.5 745.0V756.0M802.0 753.5H813.0M807.5 748.0V759.0M821.0 729.5H832.0M826.5 724.0V735.0M839.0 718.5H850.0M844.5 713.0V724.0M858.0 712.5H869.0M863.5 707.0V718.0M877.0 697.5H888.0M882.5 692.0V703.0M895.0 686.5H906.0M900.5 681.0V692.0M914.0 711.5H925.0M919.5 706.0V717.0M933.0 711.5H944.0M938.5 706.0V717.0M951.0 744.5H962.0M956.5 739.0V750.0M970.0 738.5H981.0M975.5 733.0V744.0M989.0 732.5H1000.0M994.5 727.0V738.0M1007.0 745.5H1018.0M1012.5 740.0V751.0M1026.0 751.5H1037.0M1031.5 746.0V757.0M1045.0 765.5H1056.0M1050.5 760.0V771.0M1063.0 790.5H1074.0M1068.5 785.0V796.0M1082.0 785.5H1093.0M1087.5 780.0V791.0M1101.0 793.5H1112.0M1106.5 788.0V799.0M1119.0 786.5H1130.0M1124.5 781.0V792.0M1138.0 785.5H1149.0M1143.5 780.0V791.0M1157.0 788.5H1168.0M1162.5 783.0V794.0M1173.0 792.5H1184.0M1178.5 787.0V798.0M1194.0 790.5H1205.0M1199.5 785.0V796.0M1213.0 810.5H1224.0M1218.5 805.0V816.0M1231.0 794.5H1242.0M1236.5 789.0V800.0M1250.0 796.5H1261.0M1255.5 791.0V802.0M1269.0 785.5H1280.0M1274.5 780.0V791.0M1287.0 770.5H1298.0M1292.5 765.0V776.0M1306.0 772.5H1317.0M1311.5 767.0V778.0M1324.0 777.5H1335.0M1329.5 772.0V783.0M1343.0 774.5H1354.0M1348.5 769.0V780.0M1361.0 795.5H1372.0M1366.5 790.0V801.0M1399.0 792.5H1410.0M1404.5 787.0V798.0M1437.0 789.5H1448.0M1442.5 784.0V795.0M1383.0 277.5H1394.0M1388.5 272.0V283.0" stroke="#ffa500" stroke-width="1" fill="none"/><path d="M174.0 889.0L185.0 900.0M174.0 900.0L185.0 889.0M180.0 882.0L191.0 893.0M180.0 893.0L191.0 882.0M187.0 889.0L198.0 900.0M187.0 900.0L198.0 889.0M193.0 889.0L204.0 900.0M193.0 900.0L204.0 889.0M199.0 889.0L210.0 900.0M199.0 900.0L210.0 889.0M204.0 897.0L215.0 908.0M204.0 908.0L215.0 897.0M211.0 897.0L222.0 908.0M211.0 908.0L222.0 897.0M217.0 898.0L228.0 909.0M217.0 909.0L228.0 898.0M224.0 886.0L235.0 897.0M224.0 897.0L235.0 886.0M230.0 882.0L241.0 893.0M230.0 893.0L241.0 882.0M237.0 881.0L248.0 892.0M237.0 892.0L248.0 881.0M243.0 881.0L254.0 892.0M243.0 892.0L254.0 881.0M249.0 881.0L260.0 892.0M249.0 892.0L260.0 881.0M255.0 876.0L266.0 887.0M255.0 887.0L266.0 876.0M262.0 873.0L273.0 884.0M262.0 884.0L273.0 873.0M268.0 873.0L279.0 884.0M268.0 884.0L279.0 873.0M274.0 873.0L285.0 884.0M274.0 884.0L285.0 873.0M280.0 866.0L291.0 877.0M280.0 877.0L291.0 866.0M286.0 866.0L297.0 877.0M286.0 877.0L297.0 866.0M292.0 873.0L303.0 884.0M292.0 884.0L303.0 873.0M298.0 866.0L309.0 877.0M298.0 877.0L309.0 866.0M304.0 869.0L315.0 880.0M304.0 880.0L315.0 869.0M311.0 877.0L322.0 888.0M311.0 888.0L322.0 877.0M317.0 873.0L328.0 884.0M317.0 884.0L328.0 873.0M323.0 879.0L334.0 890.0M323.0 890.0L334.0 879.0M329.0 879.0L340.0 890.0M329.0 890.0L340.0 879.0M336.0 872.0L347.0 883.0M336.0 883.0L347.0 872.0M342.0 877.0L353.0 888.0M342.0 888.0L353.0 877.0M348.0 882.0L359.0 893.0M348.0 893.0L359.0 882.0M354.0 882.0L365.0 893.0M354.0 893.0L365.0 882.0M361.0 882.0L372.0 893.0M361.0 893.0L372.0 882.0M367.0 882.0L378.0 893.0M367.0 893.0L378.0 882.0M373.0 873.0L384.0 884.0M373.0 884.0L384.0 873.0M380.0 866.0L391.0 877.0M380.0 877.0L391.0 866.0M386.0 865.0L397.0 876.0M386.0 876.0L397.0 865.0M393.0 860.0L404.0 871.0M393.0 871.0L404.0 860.0M410.0 844.0L421.0 855.0M410.0 855.0L421.0 844.0M429.0 844.0L440.0 855.0M429.0 855.0L440.0 844.0M447.0 844.0L458.0 855.0M447.0 855.0L458.0 844.0M466.0 850.0L477.0 861.0M466.0 861.0L477.0 850.0M485.0 821.0L496.0 832.0M485.0 832.0L496.0 821.0M504.0 826.0L515.0 837.0M504.0 837.0L515.0 826.0M522.0 797.0L533.0 808.0M522.0 808.0L533.0 797.0M541.0 743.0L552.0 754.0M541.0 754.0L552.0 743.0M560.0 711.0L571.0 722.0M560.0 722.0L571.0 711.0M578.0 692.0L589.0 703.0M578.0 703.0L589.0 692.0M597.0 685.0L608.0 696.0M597.0 696.0L608.0 685.0M615.0 720.0L626.0 731.0M615.0 731.0L626.0 720.0M634.0 733.0L645.0 744.0M634.0 744.0L645.0 733.0M653.0 781.0L664.0 792.0M653.0 792.0L664.0 781.0M671.0 798.0L682.0 809.0M671.0 809.0L682.0 798.0M690.0 804.0L701.0 815.0M690.0 815.0L701.0 804.0M709.0 804.0L720.0 815.0M709.0 815.0L720.0 804.0M727.0 789.0L738.0 800.0M727.0 800.0L738.0 789.0M746.0 769.0L757.0 780.0M746.0 780.0L757.0 769.0M765.0 772.0L776.0 783.0M765.0 783.0L776.0 772.0M783.0 745.0L794.0 756.0M783.0 756.0L794.0 745.0M802.0 748.0L813.0 759.0M802.0 759.0L813.0 748.0M821.0 724.0L832.0 735.0M821.0 735.0L832.0 724.0M839.0 713.0L850.0 724.0M839.0 724.0L850.0 713.0M858.0 707.0L869.0 718.0M858.0 718.0L869.0 707.0M877.0 692.0L888.0 703.0M877.0 703.0L888.0 692.0M895.0 681.0L906.0 692.0M895.0 692.0L906.0 681.0M914.0 706.0L925.0 717.0M914.0 717.0L925.0 706.0M933.0 706.0L944.0 717.0M933.0 717.0L944.0 706.0M951.0 739.0L962.0 750.0M951.0 750.0L962.0 739.0M970.0 733.0L981.0 744.0M970.0 744.0L981.0 733.0M989.0 727.0L1000.0 738.0M989.0 738.0L1000.0 727.0M1007.0 740.0L1018.0 751.0M1007.0 751.0L1018.0 740.0M1026.0 746.0L1037.0 757.0M1026.0 757.0L1037.0 746.0M1045.0 760.0L1056.0 771.0M1045.0 771.0L1056.0 760.0M1063.0 785.0L1074.0 796.0M1063.0 796.0L1074.0 785.0M1082.0 780.0L1093.0 791.0M1082.0 791.0L1093.0 780.0M1101.0 788.0L1112.0 799.0M1101.0 799.0L1112.0 788.0M1119.0 781.0L1130.0 792.0M1119.0 792.0L1130.0 781.0M1138.0 780.0L1149.0 791.0M1138.0 791.0L1149.0 780.0M1157.0 783.0L1168.0 794.0M1157.0 794.0L1168.0 783.0M1173.0 787.0L1184.0 798.0M1173.0 798.0L1184.0 787.0M1194.0 785.0L1205.0 796.0M1194.0 796.0L1205.0 785.0M1213.0 805.0L1224.0 816.0M1213.0 816.0L1224.0 805.0M1231.0 789.0L1242.0 800.0M1231.0 800.0L1242.0 789.0M1250.0 791.0L1261.0 802.0M1250.0 802.0L1261.0 791.0M1269.0 780.0L1280.0 791.0M1269.0 791.0L1280.0 780.0M1287.0 765.0L1298.0 776.0M1287.0 776.0L1298.0 765.0M1306.0 767.0L1317.0 778.0M1306.0 778.0L1317.0 767.0M1324.0 772.0L1335.0 783.0M1324.0 783.0L1335.0 772.0M1343.0 769.0L1354.0 780.0M1343.0 780.0L1354.0 769.0M1361.0 790.0L1372.0 801.0M1361.0 801.0L1372.0 790.0M1399.0 787.0L1410.0 798.0M1399.0 798.0L1410.0 787.0M1437.0 784.0L1448.0 795.0M1437.0 795.0L1448.0 784.0M1383.0 272.0L1394.0 283.0M1383.0 283.0L1394.0 272.0" stroke="#ffa500" stroke-width="1.15" fill="none"/></svg></body></html>
